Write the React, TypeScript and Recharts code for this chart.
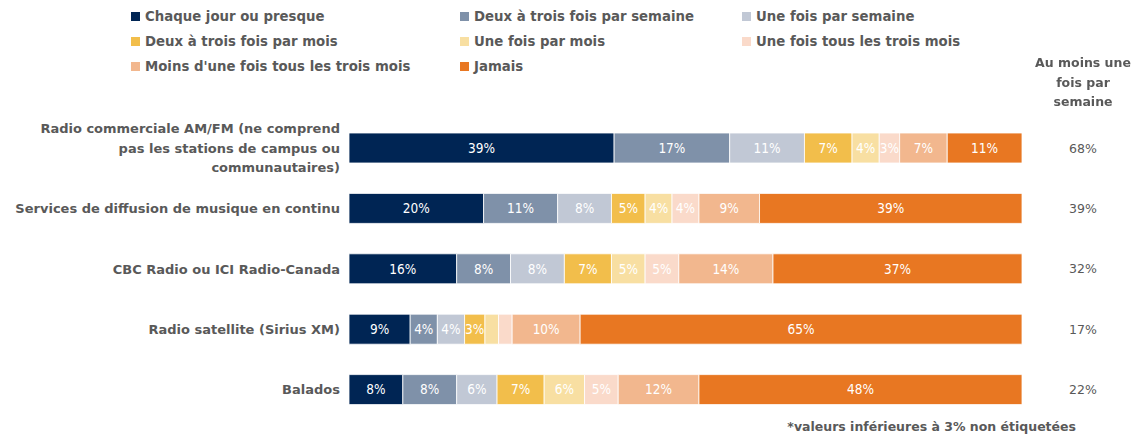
import React from "react";
import { BarChart, Bar, XAxis, YAxis, LabelList } from "recharts";

const categories = [
  "Radio commerciale AM/FM (ne comprend\npas les stations de campus ou\ncommunautaires)",
  "Services de diffusion de musique en continu",
  "CBC Radio ou ICI Radio-Canada",
  "Radio satellite (Sirius XM)",
  "Balados",
];

const daily = [39, 20, 16, 9, 8];
const twoThreeWeek = [17, 11, 8, 4, 8];
const weekly = [11, 8, 8, 4, 6];
const twoThreeMonth = [7, 5, 7, 3, 7];
const monthly = [4, 4, 5, 2, 6];
const quarterly = [3, 4, 5, 2, 5];
const lessQuarterly = [7, 9, 14, 10, 12];
const never = [11, 39, 37, 65, 48];
const atLeastWeekly = [68, 39, 32, 17, 22];

const series = [
  { key: "daily", name: "Chaque jour ou presque", color: "#002554", values: daily },
  { key: "twoThreeWeek", name: "Deux à trois fois par semaine", color: "#7F91A9", values: twoThreeWeek },
  { key: "weekly", name: "Une fois par semaine", color: "#C1C8D5", values: weekly },
  { key: "twoThreeMonth", name: "Deux à trois fois par mois", color: "#F2BE4B", values: twoThreeMonth },
  { key: "monthly", name: "Une fois par mois", color: "#F8DFA2", values: monthly },
  { key: "quarterly", name: "Une fois tous les trois mois", color: "#FADACA", values: quarterly },
  { key: "lessQuarterly", name: "Moins d'une fois tous les trois mois", color: "#F2B78E", values: lessQuarterly },
  { key: "never", name: "Jamais", color: "#E87722", values: never },
];

const data = categories.map((cat, i) => {
  const row: Record<string, string | number> = { cat };
  series.forEach((s) => (row[s.key] = s.values[i]));
  return row;
});

const GRAY = "#595959";
const FONT = "'DejaVu Sans', sans-serif";
const LABEL_FONT = "'DejaVu Sans Condensed', 'DejaVu Sans', sans-serif";

const CategoryTick = (props: any) => {
  const { y, payload } = props;
  const lines = String(payload.value).split("\n");
  const lh = 19.5;
  const y0 = y - ((lines.length - 1) * lh) / 2;
  return (
    <text x={340} y={y0} textAnchor="end" fill={GRAY} fontFamily={FONT} fontSize={13} fontWeight="bold">
      {lines.map((l, i) => (
        <tspan key={i} x={340} y={y0 + i * lh} dy="0.35em">
          {l}
        </tspan>
      ))}
    </text>
  );
};

const WeeklyTick = (props: any) => {
  const { y, payload } = props;
  return (
    <text x={1083} y={y} dy="0.35em" textAnchor="middle" fill={GRAY} fontFamily={FONT} fontSize={12.5}>
      {atLeastWeekly[payload.index]}%
    </text>
  );
};

const SegmentLabel = (props: any) => {
  const { x, y, width, height, value } = props;
  if (value < 3) return null;
  return (
    <text
      x={x + width / 2}
      y={y + height / 2}
      dy="0.36em"
      textAnchor="middle"
      fill="#fff"
      fontFamily={LABEL_FONT}
      fontSize={13.5}
    >
      {value}%
    </text>
  );
};

const legendCols = [131, 460, 742];

const LegendBlock = () => (
  <div style={{ position: "absolute", left: 0, top: 0, width: 1140, height: 80 }}>
    {series.map((s, i) => {
      const col = i % 3;
      const row = Math.floor(i / 3);
      return (
        <div
          key={s.key}
          style={{
            position: "absolute",
            left: legendCols[col],
            top: 16 + row * 25 - 9,
            height: 18,
            display: "flex",
            alignItems: "center",
            fontFamily: FONT,
            fontSize: 13.3,
            fontWeight: "bold",
            color: GRAY,
            whiteSpace: "nowrap",
          }}
        >
          <span style={{ width: 9, height: 9, background: s.color, marginRight: 5, display: "inline-block" }} />
          {s.name}
        </div>
      );
    })}
  </div>
);

export default function App() {
  return (
    <div style={{ position: "fixed", left: 0, top: 0, width: 1140, height: 439, background: "#fff" }}>
      <BarChart
        width={1140}
        height={439}
        data={data}
        layout="vertical"
        stackOffset="expand"
        margin={{ top: 118, right: 0, bottom: 19, left: 0 }}
      >
        <XAxis type="number" hide domain={[0, 1]} />
        <YAxis
          type="category"
          dataKey="cat"
          width={349}
          axisLine={false}
          tickLine={false}
          tick={<CategoryTick />}
        />
        <YAxis
          yAxisId="right"
          orientation="right"
          type="category"
          dataKey="cat"
          width={118}
          axisLine={false}
          tickLine={false}
          tick={<WeeklyTick />}
        />
        {series.map((s) => (
          <Bar
            key={s.key}
            dataKey={s.key}
            name={s.name}
            stackId="a"
            fill={s.color}
            stroke="#fff"
            strokeWidth={0.8}
            barSize={30}
            isAnimationActive={false}
          >
            <LabelList dataKey={s.key} content={<SegmentLabel />} />
          </Bar>
        ))}
      </BarChart>
      <LegendBlock />
      <div
        style={{
          position: "absolute",
          left: 1020,
          top: 53,
          width: 126,
          textAlign: "center",
          fontFamily: FONT,
          fontSize: 12.5,
          fontWeight: "bold",
          color: GRAY,
          lineHeight: "19.5px",
        }}
      >
        Au moins une
        <br />
        fois par
        <br />
        semaine
      </div>
      <div
        style={{
          position: "absolute",
          right: 64,
          top: 419,
          fontFamily: FONT,
          fontSize: 12.5,
          fontWeight: "bold",
          color: GRAY,
          whiteSpace: "nowrap",
        }}
      >
        *valeurs inférieures à 3% non étiquetées
      </div>
    </div>
  );
}
